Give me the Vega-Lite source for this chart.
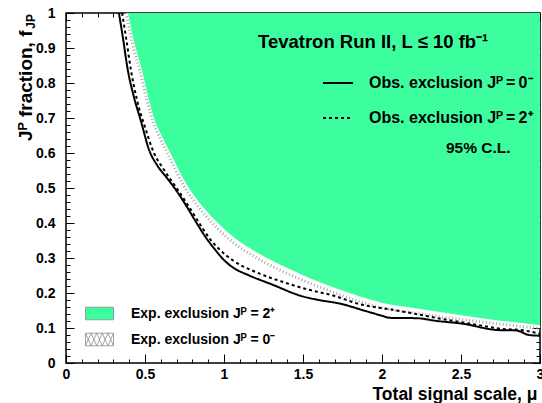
{
  "$schema": "https://vega.github.io/schema/vega-lite/v6.json",
  "width": 474,
  "height": 350,
  "autosize": {"type": "none"},
  "padding": {"left": 66, "top": 13, "right": 2, "bottom": 40},
  "background": "white",
  "config": {
    "font": "Liberation Sans",
    "view": {"stroke": "#000", "strokeWidth": 1.5},
    "axis": {
      "domain": false,
      "grid": false,
      "tickColor": "#000",
      "tickWidth": 1,
      "labelColor": "#000",
      "labelFont": "Liberation Sans",
      "labelFontWeight": "bold",
      "labelFontSize": 14,
      "titleColor": "#000",
      "titleFont": "Liberation Sans",
      "titleFontWeight": "bold"
    },
    "legend": {
      "labelFont": "Liberation Sans",
      "labelFontWeight": "bold",
      "labelColor": "#000",
      "labelLimit": 400,
      "padding": 0
    }
  },
  "datasets": {
    "expected_2p": [
      {"mu": 0.392, "f": 1.0}, {"mu": 0.43, "f": 0.92}, {"mu": 0.48, "f": 0.837},
      {"mu": 0.52, "f": 0.76}, {"mu": 0.56, "f": 0.695}, {"mu": 0.61, "f": 0.645},
      {"mu": 0.66, "f": 0.6}, {"mu": 0.77, "f": 0.505}, {"mu": 0.85, "f": 0.455},
      {"mu": 0.95, "f": 0.405}, {"mu": 1.06, "f": 0.36}, {"mu": 1.2, "f": 0.318},
      {"mu": 1.37, "f": 0.278}, {"mu": 1.48, "f": 0.255}, {"mu": 1.6, "f": 0.232},
      {"mu": 1.73, "f": 0.21}, {"mu": 1.86, "f": 0.19}, {"mu": 2.0, "f": 0.172},
      {"mu": 2.2, "f": 0.157}, {"mu": 2.49, "f": 0.137}, {"mu": 2.75, "f": 0.121},
      {"mu": 3.0, "f": 0.108}
    ],
    "expected_0m": [
      {"mu": 0.38, "f": 1.0}, {"mu": 0.42, "f": 0.915}, {"mu": 0.47, "f": 0.83},
      {"mu": 0.51, "f": 0.755}, {"mu": 0.55, "f": 0.69}, {"mu": 0.6, "f": 0.638},
      {"mu": 0.65, "f": 0.592}, {"mu": 0.76, "f": 0.495}, {"mu": 0.84, "f": 0.445},
      {"mu": 0.94, "f": 0.393}, {"mu": 1.05, "f": 0.347}, {"mu": 1.2, "f": 0.302},
      {"mu": 1.37, "f": 0.262}, {"mu": 1.48, "f": 0.24}, {"mu": 1.6, "f": 0.218},
      {"mu": 1.73, "f": 0.196}, {"mu": 1.86, "f": 0.175}, {"mu": 2.0, "f": 0.157},
      {"mu": 2.2, "f": 0.143}, {"mu": 2.49, "f": 0.125}, {"mu": 2.75, "f": 0.111},
      {"mu": 3.0, "f": 0.099}
    ],
    "observed": [
      {"series": "Obs. exclusion Jᴾ = 0⁻", "mu": 0.335, "f": 1.0},
      {"series": "Obs. exclusion Jᴾ = 0⁻", "mu": 0.36, "f": 0.93},
      {"series": "Obs. exclusion Jᴾ = 0⁻", "mu": 0.39, "f": 0.84},
      {"series": "Obs. exclusion Jᴾ = 0⁻", "mu": 0.43, "f": 0.76},
      {"series": "Obs. exclusion Jᴾ = 0⁻", "mu": 0.475, "f": 0.69},
      {"series": "Obs. exclusion Jᴾ = 0⁻", "mu": 0.525, "f": 0.61},
      {"series": "Obs. exclusion Jᴾ = 0⁻", "mu": 0.58, "f": 0.563},
      {"series": "Obs. exclusion Jᴾ = 0⁻", "mu": 0.64, "f": 0.528},
      {"series": "Obs. exclusion Jᴾ = 0⁻", "mu": 0.69, "f": 0.498},
      {"series": "Obs. exclusion Jᴾ = 0⁻", "mu": 0.76, "f": 0.45},
      {"series": "Obs. exclusion Jᴾ = 0⁻", "mu": 0.82, "f": 0.405},
      {"series": "Obs. exclusion Jᴾ = 0⁻", "mu": 0.88, "f": 0.362},
      {"series": "Obs. exclusion Jᴾ = 0⁻", "mu": 0.94, "f": 0.326},
      {"series": "Obs. exclusion Jᴾ = 0⁻", "mu": 1.0, "f": 0.294},
      {"series": "Obs. exclusion Jᴾ = 0⁻", "mu": 1.06, "f": 0.272},
      {"series": "Obs. exclusion Jᴾ = 0⁻", "mu": 1.16, "f": 0.25},
      {"series": "Obs. exclusion Jᴾ = 0⁻", "mu": 1.3, "f": 0.225},
      {"series": "Obs. exclusion Jᴾ = 0⁻", "mu": 1.5, "f": 0.19},
      {"series": "Obs. exclusion Jᴾ = 0⁻", "mu": 1.6, "f": 0.18},
      {"series": "Obs. exclusion Jᴾ = 0⁻", "mu": 1.73, "f": 0.17},
      {"series": "Obs. exclusion Jᴾ = 0⁻", "mu": 1.9, "f": 0.148},
      {"series": "Obs. exclusion Jᴾ = 0⁻", "mu": 2.0, "f": 0.135},
      {"series": "Obs. exclusion Jᴾ = 0⁻", "mu": 2.05, "f": 0.129},
      {"series": "Obs. exclusion Jᴾ = 0⁻", "mu": 2.22, "f": 0.128},
      {"series": "Obs. exclusion Jᴾ = 0⁻", "mu": 2.35, "f": 0.12},
      {"series": "Obs. exclusion Jᴾ = 0⁻", "mu": 2.5, "f": 0.113},
      {"series": "Obs. exclusion Jᴾ = 0⁻", "mu": 2.74, "f": 0.094},
      {"series": "Obs. exclusion Jᴾ = 0⁻", "mu": 2.85, "f": 0.093},
      {"series": "Obs. exclusion Jᴾ = 0⁻", "mu": 2.93, "f": 0.08},
      {"series": "Obs. exclusion Jᴾ = 0⁻", "mu": 3.0, "f": 0.078},
      {"series": "Obs. exclusion Jᴾ = 2⁺", "mu": 0.355, "f": 1.0},
      {"series": "Obs. exclusion Jᴾ = 2⁺", "mu": 0.38, "f": 0.93},
      {"series": "Obs. exclusion Jᴾ = 2⁺", "mu": 0.41, "f": 0.84},
      {"series": "Obs. exclusion Jᴾ = 2⁺", "mu": 0.45, "f": 0.75},
      {"series": "Obs. exclusion Jᴾ = 2⁺", "mu": 0.5, "f": 0.674},
      {"series": "Obs. exclusion Jᴾ = 2⁺", "mu": 0.552, "f": 0.605},
      {"series": "Obs. exclusion Jᴾ = 2⁺", "mu": 0.62, "f": 0.552},
      {"series": "Obs. exclusion Jᴾ = 2⁺", "mu": 0.7, "f": 0.5},
      {"series": "Obs. exclusion Jᴾ = 2⁺", "mu": 0.78, "f": 0.445},
      {"series": "Obs. exclusion Jᴾ = 2⁺", "mu": 0.85, "f": 0.395},
      {"series": "Obs. exclusion Jᴾ = 2⁺", "mu": 0.91, "f": 0.355},
      {"series": "Obs. exclusion Jᴾ = 2⁺", "mu": 0.975, "f": 0.323},
      {"series": "Obs. exclusion Jᴾ = 2⁺", "mu": 1.06, "f": 0.292},
      {"series": "Obs. exclusion Jᴾ = 2⁺", "mu": 1.2, "f": 0.26},
      {"series": "Obs. exclusion Jᴾ = 2⁺", "mu": 1.37, "f": 0.232},
      {"series": "Obs. exclusion Jᴾ = 2⁺", "mu": 1.53, "f": 0.21},
      {"series": "Obs. exclusion Jᴾ = 2⁺", "mu": 1.69, "f": 0.193},
      {"series": "Obs. exclusion Jᴾ = 2⁺", "mu": 1.86, "f": 0.168},
      {"series": "Obs. exclusion Jᴾ = 2⁺", "mu": 2.07, "f": 0.152},
      {"series": "Obs. exclusion Jᴾ = 2⁺", "mu": 2.24, "f": 0.138},
      {"series": "Obs. exclusion Jᴾ = 2⁺", "mu": 2.4, "f": 0.124},
      {"series": "Obs. exclusion Jᴾ = 2⁺", "mu": 2.55, "f": 0.113},
      {"series": "Obs. exclusion Jᴾ = 2⁺", "mu": 2.75, "f": 0.098},
      {"series": "Obs. exclusion Jᴾ = 2⁺", "mu": 2.9, "f": 0.093},
      {"series": "Obs. exclusion Jᴾ = 2⁺", "mu": 3.0, "f": 0.083}
    ],
    "annotations": [{}]
  },
  "resolve": {"axis": {"x": "independent", "y": "independent"}},
  "layer": [
    {
      "data": {"name": "expected_0m"},
      "mark": {"type": "area", "interpolate": "monotone", "opacity": 1},
      "encoding": {
        "x": {"field": "mu", "type": "quantitative",
          "scale": {"domain": [0, 3], "nice": false, "zero": false},
          "axis": {"orient": "bottom", "values": [0, 0.5, 1, 1.5, 2, 2.5, 3], "format": "~g",
            "tickSize": -9, "labelPadding": 13, "labelFlush": false,
            "title": "Total signal scale, μ", "titleAnchor": "end", "titleAlign": "right", "titleX": 471,
            "titleFontSize": 17.5, "titlePadding": 4}},
        "y": {"field": "f", "type": "quantitative",
          "scale": {"domain": [0, 1], "nice": false, "zero": false},
          "axis": {"orient": "left", "values": [0, 0.1, 0.2, 0.3, 0.4, 0.5, 0.6, 0.7, 0.8, 0.9, 1], "format": "~g",
            "tickSize": -8, "labelPadding": 19, "labelFlush": false,
            "title": "Jᴾ fraction, f", "titleFontSize": 19, "titleAngle": 270,
            "titleAnchor": "end", "titleAlign": "right", "titleBaseline": "alphabetic",
            "titleX": -35, "titleY": 17}},
        "y2": {"datum": 1},
        "fill": {"datum": "Exp. exclusion Jᴾ = 0⁻", "type": "nominal",
          "scale": {"domain": ["Exp. exclusion Jᴾ = 2⁺", "Exp. exclusion Jᴾ = 0⁻"], "range": ["#3dfe9f", "#ffffff"]},
          "legend": {"orient": "none", "legendX": 19, "legendY": 286, "title": null,
            "symbolType": "M-1,-0.45H1V0.45H-1Z", "symbolSize": 784,
            "symbolStrokeColor": "#8c8c8c", "symbolStrokeWidth": 0.8, "symbolOpacity": 1,
            "labelFontSize": 14, "labelOffset": 17, "rowPadding": 3,
            "encode": {"symbols": {"update": {"shape": {"signal": "datum.index === 1 ? 'M-1,-0.45H1V0.45H-1Z M-1,-0.45L-0.6,0.45M-0.6,-0.45L-0.2,0.45M-0.2,-0.45L0.2,0.45M0.2,-0.45L0.6,0.45M0.6,-0.45L1,0.45M-1,0.45L-0.6,-0.45M-0.6,0.45L-0.2,-0.45M-0.2,0.45L0.2,-0.45M0.2,0.45L0.6,-0.45M0.6,0.45L1,-0.45' : 'M-1,-0.45H1V0.45H-1Z'"}}}}}}
      }
    },
    {
      "data": {"name": "expected_0m"},
      "mark": {"type": "line", "interpolate": "monotone", "stroke": "#a8a8a8", "strokeWidth": 3, "strokeDash": [1, 2.4]},
      "encoding": {
        "x": {"field": "mu", "type": "quantitative",
          "axis": {"orient": "bottom", "values": [0.1, 0.2, 0.3, 0.4, 0.6, 0.7, 0.8, 0.9, 1.1, 1.2, 1.3, 1.4, 1.6, 1.7, 1.8, 1.9, 2.1, 2.2, 2.3, 2.4, 2.6, 2.7, 2.8, 2.9],
            "tickSize": -4, "labels": false, "title": null}},
        "y": {"field": "f", "type": "quantitative",
          "axis": {"orient": "left", "values": [0.02, 0.04, 0.06, 0.08, 0.12, 0.14, 0.16, 0.18, 0.22, 0.24, 0.26, 0.28, 0.32, 0.34, 0.36, 0.38, 0.42, 0.44, 0.46, 0.48, 0.52, 0.54, 0.56, 0.58, 0.62, 0.64, 0.66, 0.68, 0.72, 0.74, 0.76, 0.78, 0.82, 0.84, 0.86, 0.88, 0.92, 0.94, 0.96, 0.98],
            "tickSize": -4, "labels": false, "title": null}}
      }
    },
    {
      "data": {"name": "expected_2p"},
      "mark": {"type": "area", "interpolate": "monotone", "opacity": 1},
      "encoding": {
        "x": {"field": "mu", "type": "quantitative",
          "axis": {"orient": "top", "values": [0, 0.5, 1, 1.5, 2, 2.5, 3], "tickSize": -8, "labels": false, "title": null}},
        "y": {"field": "f", "type": "quantitative",
          "axis": {"orient": "right", "values": [0, 0.1, 0.2, 0.3, 0.4, 0.5, 0.6, 0.7, 0.8, 0.9, 1], "tickSize": -8, "labels": false, "title": null}},
        "y2": {"datum": 1},
        "fill": {"datum": "Exp. exclusion Jᴾ = 2⁺", "type": "nominal"}
      }
    },
    {
      "data": {"name": "observed"},
      "mark": {"type": "line", "interpolate": "monotone", "stroke": "#000", "strokeWidth": 2},
      "encoding": {
        "x": {"field": "mu", "type": "quantitative",
          "axis": {"orient": "top", "values": [0.1, 0.2, 0.3, 0.4, 0.6, 0.7, 0.8, 0.9, 1.1, 1.2, 1.3, 1.4, 1.6, 1.7, 1.8, 1.9, 2.1, 2.2, 2.3, 2.4, 2.6, 2.7, 2.8, 2.9],
            "tickSize": -4, "labels": false, "title": null}},
        "y": {"field": "f", "type": "quantitative",
          "axis": {"orient": "right", "values": [0.02, 0.04, 0.06, 0.08, 0.12, 0.14, 0.16, 0.18, 0.22, 0.24, 0.26, 0.28, 0.32, 0.34, 0.36, 0.38, 0.42, 0.44, 0.46, 0.48, 0.52, 0.54, 0.56, 0.58, 0.62, 0.64, 0.66, 0.68, 0.72, 0.74, 0.76, 0.78, 0.82, 0.84, 0.86, 0.88, 0.92, 0.94, 0.96, 0.98],
            "tickSize": -4, "labels": false, "title": null}},
        "strokeDash": {"field": "series", "type": "nominal",
          "scale": {"domain": ["Obs. exclusion Jᴾ = 0⁻", "Obs. exclusion Jᴾ = 2⁺"], "range": [[1, 0], [3, 3]]},
          "legend": {"orient": "none", "legendX": 256, "legendY": 54, "title": null,
            "symbolType": "stroke", "symbolSize": 900, "symbolStrokeWidth": 2, "symbolStrokeColor": "#000",
            "labelFontSize": 16, "labelOffset": 15, "rowPadding": 11,
            "labelExpr": "replace(datum.label, ' = ', '\u2009=\u2009')"}}
      }
    },
    {
      "data": {"name": "annotations"},
      "mark": {"type": "text", "align": "left", "baseline": "middle", "fontSize": 18.5, "fontWeight": "bold", "font": "Liberation Sans", "color": "#000"},
      "encoding": {
        "x": {"datum": 1.215, "type": "quantitative", "axis": null},
        "y": {"datum": 0.917, "type": "quantitative", "axis": null},
        "text": {"value": "Tevatron Run II, L ≤ 10 fb⁻¹"}
      }
    },
    {
      "data": {"name": "annotations"},
      "mark": {"type": "text", "align": "left", "baseline": "middle", "fontSize": 15.5, "fontWeight": "bold", "font": "Liberation Sans", "color": "#000"},
      "encoding": {
        "x": {"datum": 2.405, "type": "quantitative", "axis": null},
        "y": {"datum": 0.614, "type": "quantitative", "axis": null},
        "text": {"value": "95% C.L."}
      }
    },
    {
      "data": {"name": "annotations"},
      "mark": {"type": "text", "align": "left", "baseline": "alphabetic", "angle": 270, "fontSize": 12, "fontWeight": "bold", "font": "Liberation Sans", "color": "#000"},
      "encoding": {
        "x": {"datum": -0.196, "type": "quantitative", "axis": null},
        "y": {"datum": 0.955, "type": "quantitative", "axis": null},
        "text": {"value": "JP"}
      }
    }
  ]
}
